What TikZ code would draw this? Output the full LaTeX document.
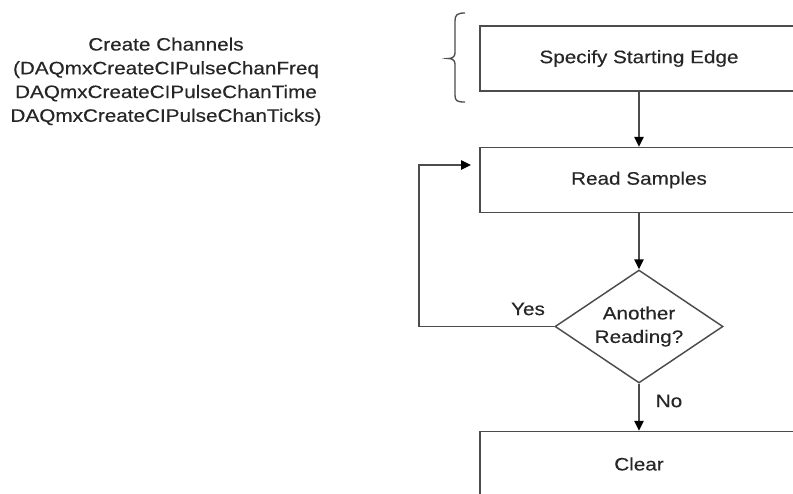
\documentclass[tikz,border=0pt]{standalone}
\usepackage{fontspec}
\setmainfont{Liberation Sans}[FakeStretch=1.15,FakeBold=0.3]
\usetikzlibrary{shapes.geometric,arrows.meta}
\begin{document}
\begin{tikzpicture}[x=0.75pt,y=-0.75pt,
  every node/.style={text=black!85, font=\fontsize{13.5pt}{17.6pt}\selectfont},
  procbox/.style={draw=black!70, line width=1.1pt, minimum width=318*0.75pt, minimum height=65*0.75pt, inner sep=0pt},
  decbox/.style={draw=black!70, line width=1.1pt, diamond, minimum width=168*0.75pt, minimum height=113*0.75pt, inner sep=0pt, align=center, aspect=1.49},
  conn/.style={draw=black!70, line width=1.1pt, -{Triangle[length=7.5pt,width=7pt,fill=black,color=black]}},
  lbl/.style={inner sep=0pt}]
\useasboundingbox (0,0) rectangle (793,493);
\clip (0,0) rectangle (793,493);
\node[lbl, align=center, font=\fontsize{13.5pt}{17.8pt}\selectfont] (cc) at (166,81.5) {Create Channels\\(DAQmxCreateCIPulseChanFreq\\DAQmxCreateCIPulseChanTime\\DAQmxCreateCIPulseChanTicks)};
\node[procbox] (se) at (639,58.5) {Specify Starting Edge};
\node[procbox] (rs) at (639,180) {Read Samples};
\node[decbox] (ar) at (639,326.5) {Another\\Reading?};
\node[procbox] (cl) at (639,464) {Clear};
\coordinate (lc) at (419,165);
\coordinate (le) at (471,165);
\draw[conn] (se) -- (rs);
\draw[conn] (rs) -- (ar);
\draw[conn] (ar) -- (cl);
\draw[conn] (ar.west) -| (lc) -- (le);
\node[lbl] (yes) at (528,309) {Yes};
\node[lbl] (no) at (669,401) {No};
\draw[black!70, line width=1pt] (465,13) .. controls (457,13) and (455,15) .. (455,21) -- (455,53) .. controls (455,57) and (452,58.5) .. (448,58.5) .. controls (452,58.5) and (455,60) .. (455,64) -- (455,95) .. controls (455,101) and (457,102) .. (465,102);
\end{tikzpicture}
\end{document}
